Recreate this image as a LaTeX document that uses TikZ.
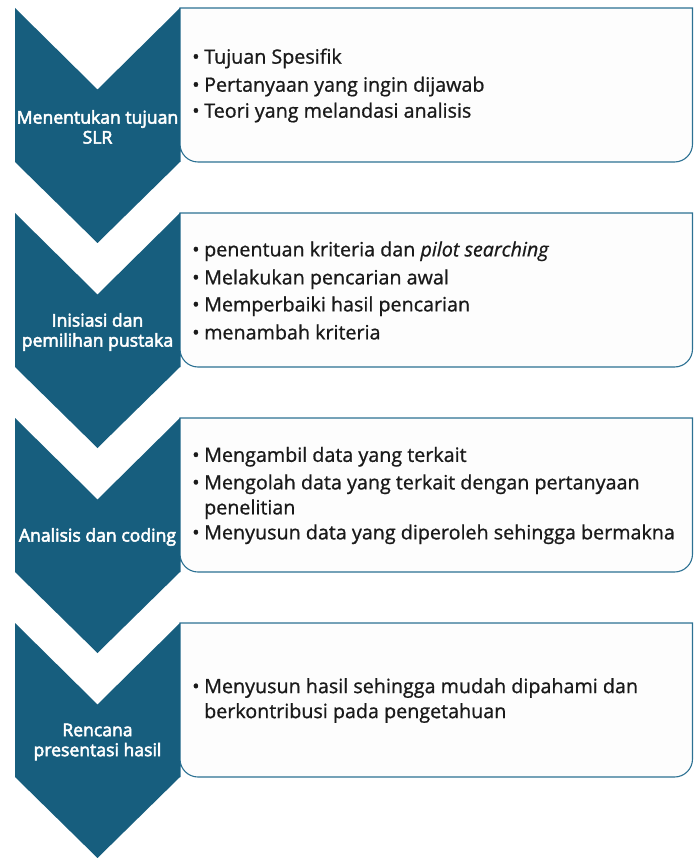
\documentclass[tikz,border=0pt]{standalone}
\usepackage{fontspec}
\setmainfont{Open Sans}[FakeBold=0.9]
\newfontfamily\stepfont{Open Sans}[FakeBold=3]
\definecolor{chevblue}{HTML}{175E7E}
\definecolor{boxline}{HTML}{2C7193}
\definecolor{boxfill}{HTML}{FDFDFD}
\definecolor{bodyink}{HTML}{1A1A1A}
% a bullet item and the indent of its wrapped lines
\newcommand\itm[1]{\makebox[12pt][l]{\textbullet}#1}
\newcommand\cont[1]{\hspace*{12pt}#1}
\begin{document}
\begin{tikzpicture}[x=1pt,y=-1pt,
  chevron/.style={fill=chevblue},
  panel/.style={draw=boxline, line width=1.1pt, fill=boxfill},
  steplabel/.style={text=white, align=center, inner sep=0pt,
    font=\stepfont\fontsize{17.6}{20}\selectfont},
  bodytext/.style={text=bodyink, align=left, inner sep=0pt, anchor=west,
    font=\fontsize{19.7}{25}\selectfont}]
\useasboundingbox (0,0) rectangle (693,858);

% one step: chevron on the left, rounded panel on the right
\foreach \y in {8,213,418,623} {
  \draw[panel] (180,\y+154) -- (180,\y) -- (692.5,\y) [rounded corners=18pt]
    -- (692.5,\y+154) -- (180,\y+154) [sharp corners] -- cycle;
  \fill[chevron] (15,\y) -- (97.5,\y+81.5) -- (180,\y) -- (180,\y+154)
    -- (97.5,\y+235) -- (15,\y+154) -- cycle;
}

% step names
\node[steplabel] (s1) at (97.5,127) {Menentukan tujuan\\SLR};
\node[steplabel] (s2) at (97.5,332) {Inisiasi dan\\pemilihan pustaka};
\node[steplabel] (s3) at (97.5,537) {Analisis dan coding};
\node[steplabel] (s4) at (97.5,742) {Rencana\\presentasi hasil};

% step contents
\node[bodytext] (b1) at (192,8+77.5) {\itm{Tujuan Spesifik}\\[3pt]
  \itm{Pertanyaan yang ingin dijawab}\\[1pt]
  \itm{Teori yang melandasi analisis}};
\node[bodytext] (b2) at (192,213+77.5) {\itm{penentuan kriteria dan \textit{pilot searching}}\\[3pt]
  \itm{Melakukan pencarian awal}\\[2pt]
  \itm{Memperbaiki hasil pencarian}\\[3pt]
  \itm{menambah kriteria}};
\node[bodytext] (b3) at (192,418+77.5) {\itm{Mengambil data yang terkait}\\[2.5pt]
  \itm{Mengolah data yang terkait dengan pertanyaan}\\
  \cont{penelitian}\\
  \itm{Menyusun data yang diperoleh sehingga bermakna}};
\node[bodytext] (b4) at (192,623+77.5) {\itm{Menyusun hasil sehingga mudah dipahami dan}\\
  \cont{berkontribusi pada pengetahuan}};
\end{tikzpicture}
\end{document}
